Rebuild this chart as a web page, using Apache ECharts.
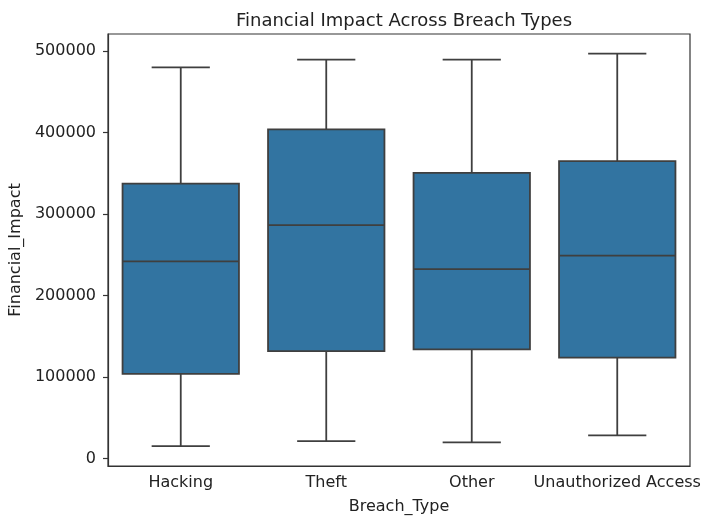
<!DOCTYPE html>
<html>
<head>
<meta charset="utf-8">
<script src="https://cdn.jsdelivr.net/npm/echarts@6/dist/echarts.min.js"></script>
<style>
  html, body { margin: 0; padding: 0; background: #fff; }
  #chart { width: 705px; height: 520px; }
</style>
</head>
<body>
<div id="chart"></div>
<script>
// Data
const categories = ['Hacking', 'Theft', 'Other', 'Unauthorized Access']
const lowWhisker = [15500, 21600, 20000, 28500]
const q1 = [104000, 132000, 134000, 124000]
const median = [242000, 286500, 232500, 249000]
const q3 = [337500, 404000, 350500, 365000]
const highWhisker = [480000, 489500, 489500, 497000]
const yTicks = [0, 100000, 200000, 300000, 400000, 500000]

const font = 'DejaVu Sans'
const lineColor = '#3f3f3f'
const boxColor = '#3274a1'

const chart = echarts.init(document.getElementById('chart'))

// build rows for the custom series: [index, low, q1, median, q3, high]
const rows = categories.map((c, i) => [i, lowWhisker[i], q1[i], median[i], q3[i], highWhisker[i]])

function renderBox(params, api) {
  const x = api.value(0)
  const band = api.size([1, 0])[0]
  const half = band * 0.4
  const capHalf = band * 0.2
  const pLow = api.coord([x, api.value(1)])
  const pQ1 = api.coord([x, api.value(2)])
  const pMed = api.coord([x, api.value(3)])
  const pQ3 = api.coord([x, api.value(4)])
  const pHigh = api.coord([x, api.value(5)])
  const cx = pLow[0]
  const stroke = { stroke: lineColor, lineWidth: 1.8 }
  return {
    type: 'group',
    children: [
      { type: 'line', shape: { x1: cx, y1: pQ1[1], x2: cx, y2: pLow[1] }, style: stroke },
      { type: 'line', shape: { x1: cx, y1: pQ3[1], x2: cx, y2: pHigh[1] }, style: stroke },
      { type: 'line', shape: { x1: cx - capHalf, y1: pLow[1], x2: cx + capHalf, y2: pLow[1] }, style: stroke },
      { type: 'line', shape: { x1: cx - capHalf, y1: pHigh[1], x2: cx + capHalf, y2: pHigh[1] }, style: stroke },
      {
        type: 'rect',
        shape: { x: cx - half, y: pQ3[1], width: half * 2, height: pQ1[1] - pQ3[1] },
        style: { fill: boxColor, stroke: lineColor, lineWidth: 1.8 },
      },
      { type: 'line', shape: { x1: cx - half, y1: pMed[1], x2: cx + half, y2: pMed[1] }, style: stroke },
    ],
  }
}

chart.setOption({
  animation: false,
  title: {
    text: 'Financial Impact Across Breach Types',
    left: 399,
    top: 7,
    textAlign: 'center',
    textStyle: { fontFamily: font, fontSize: 18, fontWeight: 'normal', color: '#222' },
  },
  grid: {
    show: true,
    borderColor: '#333',
    borderWidth: 1.2,
    left: 108,
    right: 15,
    top: 34,
    bottom: 51,
  },
  xAxis: {
    type: 'category',
    data: categories,
    boundaryGap: true,
    name: 'Breach_Type',
    nameLocation: 'middle',
    nameGap: 33,
    nameTextStyle: { fontFamily: font, fontSize: 16, color: '#222' },
    axisLine: { onZero: false, lineStyle: { color: '#333', width: 1.2 } },
    axisTick: { alignWithLabel: true, length: 5, lineStyle: { color: '#333', width: 1.2 } },
    axisLabel: { fontFamily: font, fontSize: 16, color: '#222', margin: 9, interval: 0 },
    splitLine: { show: false },
  },
  yAxis: {
    type: 'value',
    min: -9000,
    max: 521000,
    name: 'Financial_Impact',
    nameLocation: 'middle',
    nameRotate: 90,
    nameGap: 78,
    nameTextStyle: { fontFamily: font, fontSize: 16, color: '#222' },
    axisLine: { show: true, lineStyle: { color: '#333', width: 1.2 } },
    axisTick: { show: true, length: 5, customValues: yTicks, lineStyle: { color: '#333', width: 1.2 } },
    axisLabel: {
      fontFamily: font, fontSize: 16, color: '#222', margin: 12,
      customValues: yTicks,
      formatter: v => String(v),
    },
    splitLine: { show: false },
  },
  series: [{
    type: 'custom',
    renderItem: renderBox,
    encode: { x: 0, y: [1, 2, 3, 4, 5] },
    data: rows,
  }],
})
</script>
</body>
</html>
